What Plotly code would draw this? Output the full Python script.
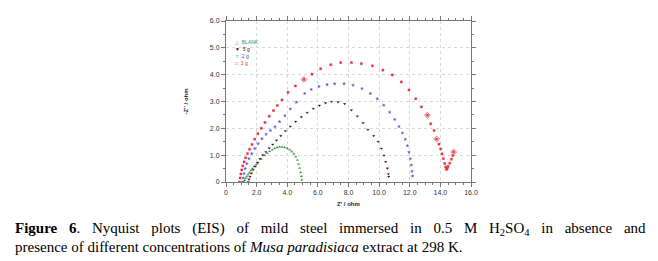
import plotly.graph_objects as go

# ---- data ----
blank_x = [1.18, 1.22, 1.28, 1.35, 1.43, 1.52, 1.62, 1.73, 1.85, 1.97, 2.09, 2.3, 2.53, 2.7, 2.85, 3.02,
           3.18, 3.34, 3.5, 3.67, 3.83, 4.0, 4.16, 4.3, 4.44, 4.56, 4.66, 4.74, 4.81, 4.87, 4.92, 4.95]
blank_y = [0.0, 0.06, 0.13, 0.2, 0.27, 0.34, 0.42, 0.5, 0.58, 0.65, 0.72, 0.86, 0.99, 1.07, 1.14, 1.2,
           1.25, 1.29, 1.31, 1.31, 1.29, 1.25, 1.2, 1.13, 1.05, 0.94, 0.82, 0.67, 0.52, 0.36, 0.21, 0.08]

g5_x = [1.45, 1.5, 1.57, 1.66, 1.77, 1.9, 2.05, 2.22, 2.4, 2.6, 2.82, 3.05, 3.3, 3.58, 3.88, 4.2, 4.55,
        4.92, 5.3, 5.7, 6.1, 6.5, 6.9, 7.32, 7.75, 8.19, 8.58, 8.95, 9.27, 9.64, 9.93, 10.15, 10.32,
        10.43, 10.54, 10.6, 10.63]
g5_y = [0.0, 0.1, 0.2, 0.32, 0.45, 0.58, 0.72, 0.86, 1.0, 1.12, 1.26, 1.4, 1.55, 1.72, 1.9, 2.07, 2.25,
        2.42, 2.58, 2.73, 2.85, 2.94, 2.99, 2.98, 2.91, 2.68, 2.45, 2.2, 1.95, 1.72, 1.5, 1.25, 0.99,
        0.75, 0.51, 0.3, 0.2]

g2_x = [1.08, 1.12, 1.18, 1.26, 1.36, 1.5, 1.68, 1.88, 2.1, 2.35, 2.62, 2.9, 3.2, 3.5, 3.85, 4.2, 4.6,
        5.14, 5.57, 6.07, 6.6, 7.1, 7.71, 8.3, 8.88, 9.43, 9.88, 10.3, 10.69, 11.02, 11.3, 11.52, 11.71,
        11.85, 11.95, 12.04, 12.1, 12.15, 12.18]
g2_y = [0.0, 0.15, 0.32, 0.5, 0.68, 0.87, 1.06, 1.25, 1.43, 1.61, 1.78, 1.92, 2.06, 2.25, 2.47, 2.72, 2.97,
        3.3, 3.45, 3.56, 3.63, 3.66, 3.66, 3.61, 3.48, 3.3, 3.1, 2.86, 2.6, 2.33, 2.07, 1.83, 1.59,
        1.35, 1.11, 0.87, 0.63, 0.4, 0.22]

g3_x = [0.88, 0.92, 0.97, 1.03, 1.1, 1.18, 1.28, 1.4, 1.54, 1.7, 1.88, 2.08, 2.3, 2.55, 2.82, 3.1, 3.35,
        3.66, 4.05, 4.53, 5.09, 5.62, 6.18, 6.84, 7.49, 8.19, 8.84, 9.56, 10.25, 10.86, 11.45, 11.95,
        12.39, 12.76, 13.15, 13.37, 13.59, 13.76, 13.91, 14.02, 14.11, 14.19, 14.28, 14.35, 14.39,
        14.45, 14.5, 14.61, 14.72, 14.81, 14.87]
g3_y = [0.0, 0.15, 0.3, 0.45, 0.6, 0.75, 0.9, 1.06, 1.22, 1.4, 1.6, 1.8, 2.0, 2.22, 2.45, 2.66, 2.85,
        3.06, 3.34, 3.58, 3.82, 4.02, 4.22, 4.37, 4.45, 4.45, 4.41, 4.33, 4.17, 3.99, 3.73, 3.43,
        3.1, 2.8, 2.49, 2.17, 1.92, 1.6, 1.41, 1.23, 1.05, 0.87, 0.69, 0.56, 0.47,
        0.5, 0.58, 0.7, 0.85, 0.99, 1.12]
# highlighted (larger open) points of the 3 g series
g3_big_x = [5.09, 13.15, 13.76, 14.87]
g3_big_y = [3.82, 2.49, 1.6, 1.12]

series_names = ["BLANK", "5 g", "2 g", "3 g"]
x_ticks = [0, 2, 4, 6, 8, 10, 12, 14, 16]
x_tick_text = ["0", "2.0", "4.0", "6.0", "8.0", "10.0", "12.0", "14.0", "16.0"]
y_ticks = [0, 1, 2, 3, 4, 5, 6]
y_tick_text = ["0", "1.0", "2.0", "3.0", "4.0", "5.0", "6.0"]

colors = ["#2f9a3a", "#3a0a10", "#5050d0", "#e8343c"]
symbols = ["triangle-up", "triangle-down", "star", "square"]

fig = go.Figure()
for name, xs, ys, c, s in zip(series_names, [blank_x, g5_x, g2_x, g3_x], [blank_y, g5_y, g2_y, g3_y],
                              colors, symbols):
    fig.add_trace(go.Scatter(x=xs, y=ys, mode="markers", name=name, showlegend=False,
                             marker=dict(symbol=s, size=2.2, color=c, line=dict(width=0.3, color=c))))
fig.add_trace(go.Scatter(x=g3_big_x, y=g3_big_y, mode="markers", showlegend=False,
                         marker=dict(symbol="diamond-open", size=4.5, color=colors[3],
                                     line=dict(width=0.7, color=colors[3]))))

# legend drawn as small text entries
leg_syms = ["\u25B3", "\u25BC", "\u2606", "\u25A1"]
for i, (name, c, sym) in enumerate(zip(series_names, colors, leg_syms)):
    py = 30 + 7 * i
    fig.add_annotation(x=(225 - 218) / 245, y=(174 - py) / 166, xref="paper", yref="paper",
                       text=f"{sym}&nbsp;&nbsp;{name}",
                       showarrow=False, xanchor="left", yanchor="middle",
                       font=dict(size=5, color=c, family="Arial"))

axis_common = dict(showline=True, linecolor="#777", linewidth=1, mirror="allticks",
                   ticks="outside", ticklen=4, tickcolor="#777", tickwidth=1,
                   showgrid=True, gridcolor="#d8d8d8", griddash="dot", gridwidth=1,
                   zeroline=False, tickfont=dict(size=7, color="#333", family="Arial"),
                   minor=dict(ticks="outside", ticklen=2, tickcolor="#777", dtick=0.5, showgrid=False))

fig.update_xaxes(range=[0, 16], tickvals=x_ticks, ticktext=x_tick_text,
                 title=dict(text="<b>Z' / ohm</b>", font=dict(size=6, color="#222", family="Arial"),
                            standoff=6), **axis_common)
fig.update_yaxes(range=[0, 6], tickvals=y_ticks, ticktext=y_tick_text,
                 title=dict(text="<b>-Z'' / ohm</b>", font=dict(size=6, color="#222", family="Arial"),
                            standoff=20), **axis_common)

cap_font = dict(family="Liberation Serif", size=15, color="black")
fig.add_annotation(x=-218 / 245 + 5 / 245, y=(174 - 222) / 166, xref="paper", yref="paper",
                   text="<span style='word-spacing:8px'><b>Figure 6</b>. Nyquist plots (EIS) of mild steel immersed in 0.5 M H<sub>2</sub>SO<sub>4</sub> in absence and</span>",
                   showarrow=False, xanchor="left", yanchor="middle", font=cap_font)
fig.add_annotation(x=-218 / 245 + 5 / 245, y=(174 - 241) / 166, xref="paper", yref="paper",
                   text="presence of different concentrations of <i>Musa paradisiaca</i> extract at 298 K.",
                   showarrow=False, xanchor="left", yanchor="middle", font=cap_font)

fig.update_layout(width=658, height=261, margin=dict(l=218, r=195, t=8, b=87),
                  paper_bgcolor="white", plot_bgcolor="white", showlegend=False)

fig.write_html("out.html")
